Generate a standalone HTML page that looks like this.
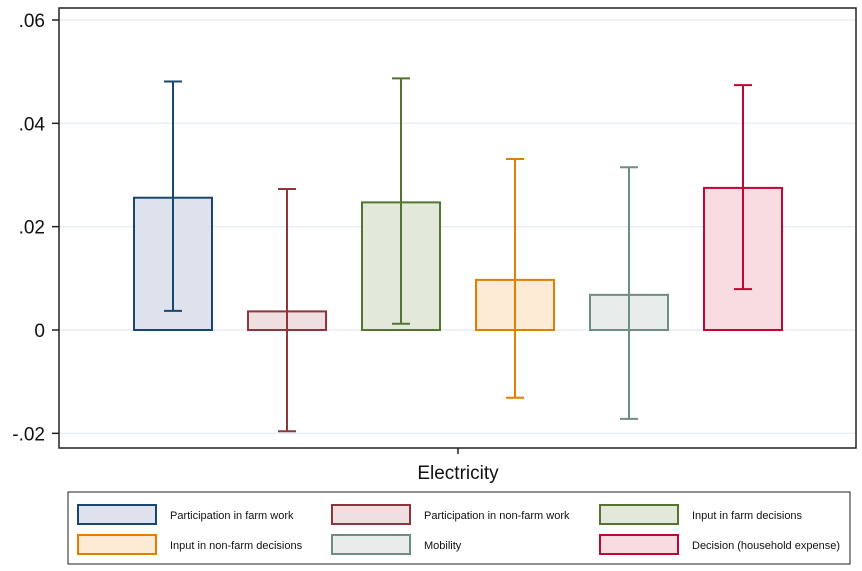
<!DOCTYPE html>
<html><head><meta charset="utf-8"><style>
body{margin:0;background:#fff;font-family:"Liberation Sans",Arial,sans-serif}
svg{display:block}
</style></head><body>
<svg id="chart" width="862" height="571" viewBox="0 0 862 571">
<rect x="59" y="8" width="797" height="440" fill="#fff" stroke="#222" stroke-width="1.5"/>
<g id="grid"></g><g id="bars"></g><g id="yaxis"></g>
<line x1="458" y1="448" x2="458" y2="454" stroke="#222" stroke-width="1.5"/>
<text x="458" y="479" font-size="19" text-anchor="middle" fill="#111">Electricity</text>
<rect x="68" y="492" width="782" height="72" fill="#fff" stroke="#222" stroke-width="1"/>
<g id="legend"></g>
</svg>
<script>
const labels=["Participation in farm work","Participation in non-farm work","Input in farm decisions","Input in non-farm decisions","Mobility","Decision (household expense)"];
const means=[0.0256,0.0036,0.0247,0.0097,0.0068,0.0275];
const ciHigh=[0.0481,0.0273,0.0487,0.0331,0.0315,0.0474];
const ciLow=[0.0037,-0.0196,0.0012,-0.0131,-0.0172,0.0079];
const yTicks=[-0.02,0,0.02,0.04,0.06];
const yTickLabels=["-.02","0",".02",".04",".06"];
const strokes=["#1a476f","#90353b","#55752f","#e37e00","#6e8e84","#c10534"];
const fills=["#dde2ec","#efdfe1","#e2e9db","#fdebd6","#e8ecea","#f8dce2"];
const NS="http://www.w3.org/2000/svg";
function y(v){return 330-v*5167;}
function bx(i){return 134+i*114;}
const bw=78;
function mk(tag,attrs,parent,txt){const e=document.createElementNS(NS,tag);for(const k in attrs)e.setAttribute(k,attrs[k]);if(txt!==undefined)e.textContent=txt;document.getElementById(parent).appendChild(e);return e;}
yTicks.forEach((t,i)=>{
 const g=mk("line",{x1:60,x2:855,y1:y(t),y2:y(t),stroke:"#e8edf5","stroke-width":1.5},"grid");
 
 
 const tk=mk("line",{x1:52,x2:59,y1:y(t),y2:y(t),stroke:"#222","stroke-width":1.5},"yaxis");
 
 
 const tx=mk("text",{x:45,y:y(t)+7,"font-size":19,"text-anchor":"end",fill:"#111"},"yaxis",yTickLabels[i]);
 
 
});
means.forEach((m,i)=>{
 const x=bx(i);
 const r=mk("rect",{x:x,y:Math.min(y(m),y(0)),width:bw,height:Math.abs(y(0)-y(m)),fill:fills[i],stroke:strokes[i],"stroke-width":2},"bars");
 
 
 const cx=x+bw/2;
 const e=mk("path",{d:`M${cx} ${y(ciHigh[i])}V${y(ciLow[i])}M${cx-9} ${y(ciHigh[i])}H${cx+9}M${cx-9} ${y(ciLow[i])}H${cx+9}`,stroke:strokes[i],"stroke-width":2,fill:"none"},"bars");
 
 
});
const lx=[78,332,600],ly=[505,535];
labels.forEach((l,i)=>{
 const c=i%3,r=Math.floor(i/3);
 const s=mk("rect",{x:lx[c],y:ly[r],width:78,height:19,fill:fills[i],stroke:strokes[i],"stroke-width":2},"legend");
 
 
 const t=mk("text",{x:lx[c]+92,y:ly[r]+14,"font-size":11,fill:"#111"},"legend",l);
 
 
});
</script>
</body></html>
